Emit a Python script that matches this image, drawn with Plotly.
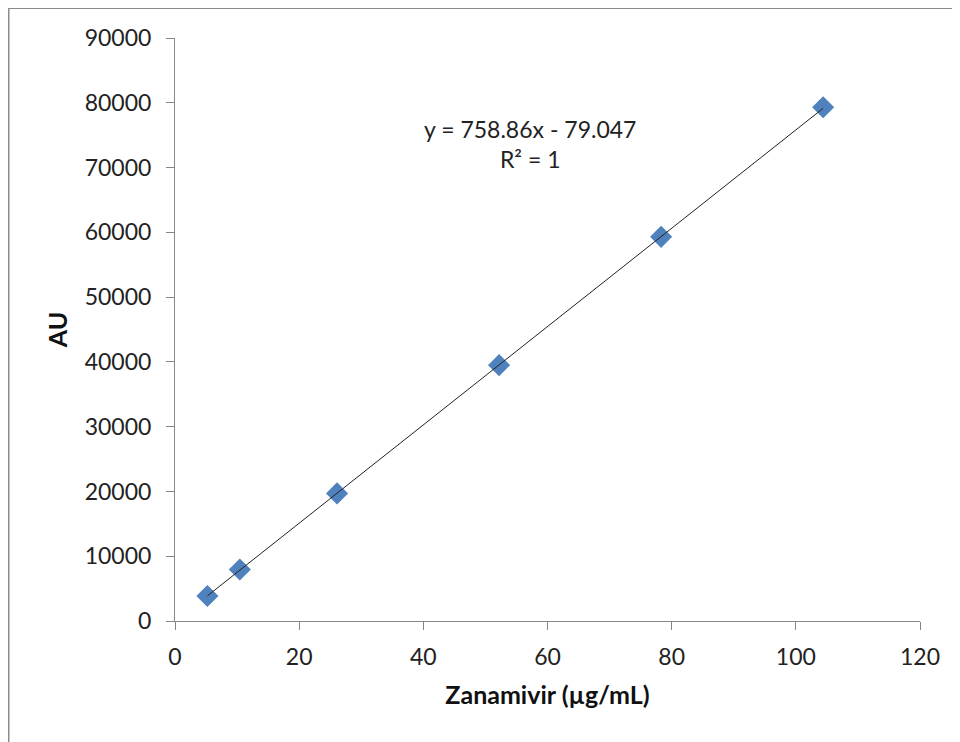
import plotly.graph_objects as go

# Data
concentration = [5.22, 10.44, 26.1, 52.2, 78.3, 104.4]
response = [3850, 7950, 19700, 39500, 59300, 79300]
slope = 758.86
intercept = -79.047
x_ticks = [0, 20, 40, 60, 80, 100, 120]
y_ticks = [0, 10000, 20000, 30000, 40000, 50000, 60000, 70000, 80000, 90000]
y_tick_labels = ["0", "10000", "20000", "30000", "40000", "50000",
                 "60000", "70000", "80000", "90000"]
equation_text = "y = 758.86x - 79.047<br>R² = 1"

trend_x = [min(concentration), max(concentration)]
trend_y = [slope * v + intercept for v in trend_x]

FONT = "Lato"
AXIS_COLOR = "#868686"
L, R, T, B = 167, 48, 30, 129
W, H = 960, 742
PW, PH = W - L - R, H - T - B

fig = go.Figure()
fig.add_trace(go.Scatter(
    x=concentration, y=response, mode="markers",
    marker=dict(symbol="diamond", size=17, color="#4F81BD",
                line=dict(width=0)),
    showlegend=False,
))
fig.add_trace(go.Scatter(
    x=trend_x, y=trend_y, mode="lines",
    line=dict(color="#222222", width=1),
    showlegend=False,
))

fig.add_annotation(
    x=57.2, y=73600, xref="x", yref="y",
    text=equation_text, showarrow=False,
    font=dict(family=FONT, size=23, color="#222222"),
    align="center", xanchor="center", yanchor="middle",
)

# Outer chart border (left and top edges visible)
px = lambda p: (p - L) / PW
py = lambda p: (T + PH - p) / PH
fig.add_shape(type="line", xref="paper", yref="paper",
              x0=px(0.5), x1=px(0.5), y0=py(0), y1=py(H + 20),
              line=dict(color="#8c8c8c", width=2))
fig.add_shape(type="line", xref="paper", yref="paper",
              x0=px(0), x1=px(W + 20), y0=py(0), y1=py(0),
              line=dict(color="#8c8c8c", width=2))

fig.update_xaxes(
    range=[0, 120], tickvals=x_ticks, showgrid=False, zeroline=False,
    showline=True, linecolor=AXIS_COLOR, linewidth=1,
    ticks="outside", ticklen=8, tickcolor=AXIS_COLOR,
    tickfont=dict(family=FONT, size=23, color="#222222"),
    ticklabelstandoff=7,
    title=dict(text="<b>Zanamivir (µg/mL)</b>",
               font=dict(family=FONT, size=25, color="#111111"), standoff=17),
)
fig.update_yaxes(
    range=[0, 90000], tickvals=y_ticks, ticktext=y_tick_labels,
    showgrid=False, zeroline=False,
    showline=True, linecolor=AXIS_COLOR, linewidth=1,
    ticks="outside", ticklen=8, tickcolor=AXIS_COLOR,
    tickfont=dict(family=FONT, size=23, color="#222222"),
    ticklabelstandoff=10,
    title=dict(text="<b>AU</b>",
               font=dict(family=FONT, size=25, color="#111111"), standoff=9),
)

fig.update_layout(
    width=W, height=H,
    margin=dict(l=L, r=R, t=T, b=B, pad=0, autoexpand=False),
    paper_bgcolor="white", plot_bgcolor="white",
    font=dict(family=FONT),
)

fig.write_html("out.html")
